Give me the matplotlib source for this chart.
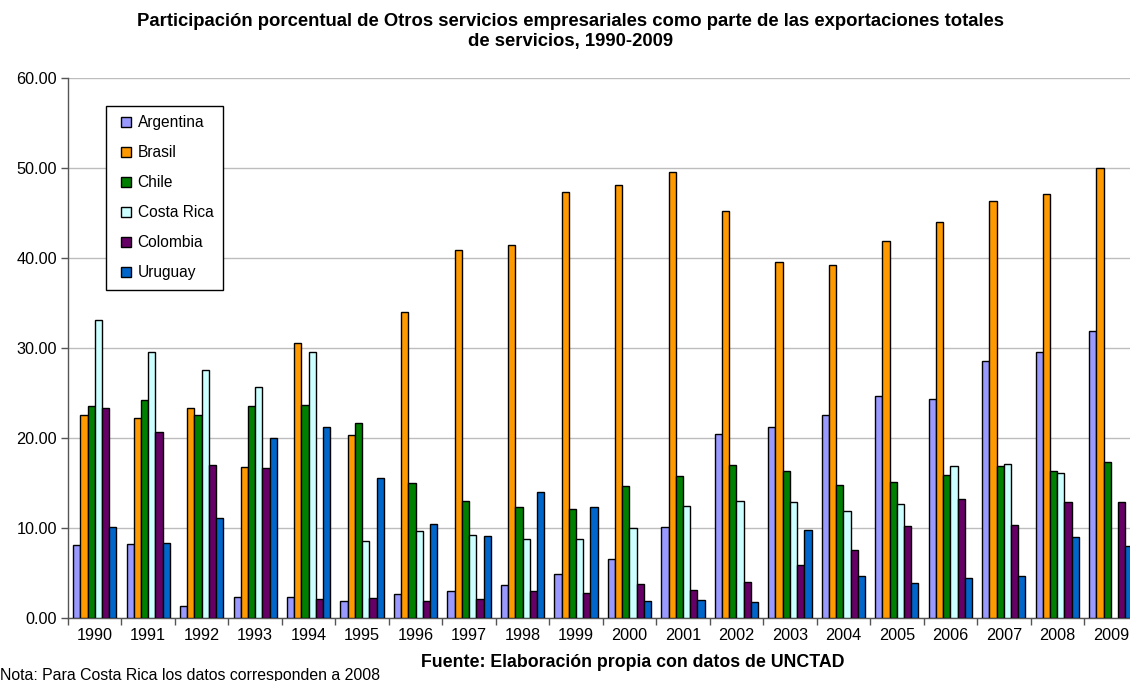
import numpy as np
import matplotlib
matplotlib.use("Agg")
import matplotlib.pyplot as plt
from matplotlib.lines import Line2D

plt.rcParams['font.family'] = ['Liberation Sans', 'DejaVu Sans']

years = ['1990', '1991', '1992', '1993', '1994', '1995', '1996', '1997', '1998', '1999',
         '2000', '2001', '2002', '2003', '2004', '2005', '2006', '2007', '2008', '2009']

argentina = [8.15, 8.26, 1.37, 2.37, 2.30, 1.93, 2.67, 3.04, 3.70, 4.85,
             6.60, 10.15, 20.44, 21.20, 22.60, 24.70, 24.30, 28.56, 29.60, 31.85]
brasil = [22.50, 22.20, 23.30, 16.80, 30.60, 20.30, 34.00, 40.93, 41.40, 47.33,
          48.15, 49.52, 45.20, 39.60, 39.20, 41.90, 44.00, 46.30, 47.10, 50.04]
chile = [23.50, 24.20, 22.60, 23.50, 23.70, 21.70, 15.00, 13.00, 12.37, 12.15,
         14.70, 15.74, 17.04, 16.37, 14.74, 15.10, 15.85, 16.93, 16.30, 17.33]
costa_rica = [33.15, 29.55, 27.60, 25.70, 29.60, 8.60, 9.63, 9.19, 8.78, 8.74,
              10.04, 12.50, 13.04, 12.90, 11.93, 12.63, 16.85, 17.07, 16.15, None]
colombia = [23.30, 20.67, 17.00, 16.67, 2.07, 2.20, 1.85, 2.07, 3.00, 2.78,
            3.81, 3.10, 3.96, 5.93, 7.60, 10.19, 13.19, 10.33, 12.93, 12.85]
uruguay = [10.15, 8.33, 11.15, 20.00, 21.20, 15.60, 10.50, 9.11, 14.00, 12.33,
           1.89, 2.04, 1.78, 9.78, 4.70, 3.93, 4.40, 4.63, 9.04, 7.96]

series = [
    ('Argentina', argentina, '#9999FF'),
    ('Brasil', brasil, '#FF9900'),
    ('Chile', chile, '#008000'),
    ('Costa Rica', costa_rica, '#CCFFFF'),
    ('Colombia', colombia, '#660066'),
    ('Uruguay', uruguay, '#0066CC'),
]

fig = plt.figure(figsize=(11.30, 6.81), dpi=100)
# plot area runs slightly past the right edge of the canvas
ax = fig.add_axes([0.0602, 0.0925, 0.9464, 0.793])

x = np.arange(len(years))
bar_w = 0.135
n = len(series)
for i, (name, vals, color) in enumerate(series):
    vals = np.array([np.nan if v is None else v for v in vals], dtype=float)
    offs = (i - (n - 1) / 2) * bar_w
    ax.bar(x + offs, vals, width=bar_w, color=color, edgecolor='black',
           linewidth=1.0, zorder=3)

ax.set_xlim(-0.5, len(years) - 0.5)
ax.set_ylim(0, 60)
ax.set_yticks(np.arange(0, 61, 10))
ax.set_yticklabels([f'{v:.2f}' for v in np.arange(0, 61, 10)], fontsize=11.7)
ax.yaxis.grid(True, color='#BDBDBD', linewidth=1.0, zorder=0)
ax.set_axisbelow(True)

ax.set_xticks(np.arange(-0.5, len(years), 1.0))
ax.set_xticklabels([])
ax.set_xticks(x, minor=True)
ax.set_xticklabels(years, minor=True, fontsize=11.7)
ax.tick_params(axis='x', which='minor', length=0, pad=7.5)
ax.tick_params(axis='x', which='major', length=5, color='#555555', width=1)
ax.tick_params(axis='y', length=5, color='#555555', width=1, pad=3)

for side in ('top', 'right'):
    ax.spines[side].set_visible(False)
for side in ('left', 'bottom'):
    ax.spines[side].set_color('#555555')
    ax.spines[side].set_linewidth(1.0)

handles = [Line2D([0], [0], marker='s', linestyle='none', markersize=7.3,
                  markerfacecolor=c, markeredgecolor='black', markeredgewidth=1.0)
           for _, _, c in series]
leg = ax.legend(handles, [s[0] for s in series], loc='upper left',
                bbox_to_anchor=(0.0353, 0.9487), borderaxespad=0,
                fontsize=11.2, frameon=True, fancybox=False, framealpha=1,
                edgecolor='black', labelspacing=0.97, handlelength=1.4,
                handletextpad=0.05, borderpad=0.6)
leg.get_frame().set_linewidth(1.0)
leg.set_zorder(5)

fig.text(0.505, 0.9537,
         'Participación porcentual de Otros servicios empresariales como parte de las exportaciones totales\n'
         'de servicios, 1990-2009',
         ha='center', va='center', fontsize=13.3, fontweight='bold', linespacing=1.3)
fig.text(0.560, 0.0279, 'Fuente: Elaboración propia con datos de UNCTAD',
         ha='center', va='center', fontsize=12.8, fontweight='bold')
fig.text(0.0, 0.0088, 'Nota: Para Costa Rica los datos corresponden a 2008',
         ha='left', va='center', fontsize=11.4)

fig.savefig('out.png', dpi=100)
